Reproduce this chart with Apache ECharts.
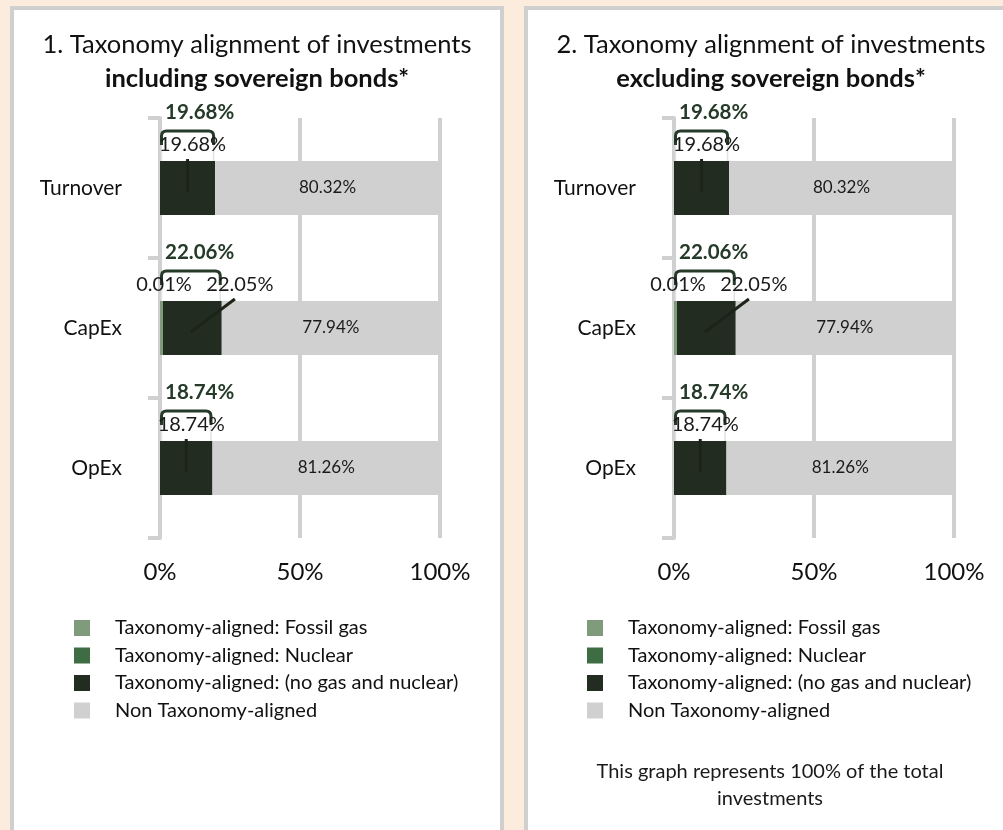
<!DOCTYPE html>
<html lang="en">
<head>
  <meta charset="utf-8">
  <title>Taxonomy alignment of investments</title>
  <script src="https://cdn.jsdelivr.net/npm/echarts@6/dist/echarts.min.js"></script>
  <style>
    html, body { margin: 0; padding: 0; background: #fcecdd; }
    #main { width: 1003px; height: 830px; }
  </style>
</head>
<body>
<div id="main"></div>
<script type="text/javascript">
// categories (top to bottom)
var categories = ['Turnover', 'CapEx', 'OpEx'];

// 1. including sovereign bonds
var fossilGas1 = [0, 0.01, 0];
var nuclear1 = [0, 0, 0];
var noGasNuclear1 = [19.68, 22.05, 18.74];
var nonAligned1 = [80.32, 77.94, 81.26];
var totalAligned1 = [19.68, 22.06, 18.74];

// 2. excluding sovereign bonds
var fossilGas2 = [0, 0.01, 0];
var nuclear2 = [0, 0, 0];
var noGasNuclear2 = [19.68, 22.05, 18.74];
var nonAligned2 = [80.32, 77.94, 81.26];
var totalAligned2 = [19.68, 22.06, 18.74];

var xTicks = [0, 50, 100];

var names = ['Taxonomy-aligned: Fossil gas', 'Taxonomy-aligned: Nuclear',
             'Taxonomy-aligned: (no gas and nuclear)', 'Non Taxonomy-aligned'];
var colors = ['#7f9b7b', '#3e6d44', '#232c21', '#d0d0d0'];

// callout nudge to the right for the dark segment label (CapEx label moved aside)
var calloutShift = [0, 44, 0];

var FONT = 'Lato';
var BAR_W = 54;
var gridLine = '#d0d0d0';

var dom = document.getElementById('main');
var myChart = echarts.init(dom, null, {renderer: 'canvas'});

function pct(v) { return v.toFixed(2) + '%'; }

function overlayItem(params, api) {
    var cat = api.value(0);
    var fossil = api.value(1), nuc = api.value(2), dark = api.value(3), total = api.value(4);
    var p0 = api.coord([0, cat]);
    var x0 = p0[0], cy = p0[1];
    var xt = api.coord([total, cat])[0];
    var top = cy - BAR_W / 2;
    var sx = api.coord([fossil + nuc + dark / 2, cat])[0];
    var shift = calloutShift[params.dataIndex];
    var l = x0 + 1.5, r = xt - 1.5, t = top - 30;
    var children = [
        {type: 'line', shape: {x1: l, y1: top - 16, x2: l, y2: top}, style: {stroke: '#e2e2e2', lineWidth: 1.5}},
        {type: 'line', shape: {x1: r, y1: top - 16, x2: r, y2: top}, style: {stroke: '#e2e2e2', lineWidth: 1.5}},
        {type: 'path', shape: {pathData: 'M' + l + ',' + (top - 16) + ' L' + l + ',' + (t + 5) +
            ' Q' + l + ',' + t + ' ' + (l + 5) + ',' + t + ' L' + (r - 5) + ',' + t +
            ' Q' + r + ',' + t + ' ' + r + ',' + (t + 5) + ' L' + r + ',' + (top - 16)},
         style: {stroke: '#263a29', lineWidth: 3, fill: null}},
        {type: 'line', shape: {x1: sx, y1: cy + 4, x2: sx + shift, y2: top - 2},
         style: {stroke: '#1c2419', lineWidth: 3}},
        {type: 'text', style: {text: pct(total), x: x0 + 5, y: top - 49, align: 'left', verticalAlign: 'middle',
            font: 'bold 20.5px ' + FONT, fill: '#253a28'}},
        {type: 'text', style: {text: pct(dark), x: sx + shift + 5, y: top - 16, align: 'center', verticalAlign: 'middle',
            font: '20px ' + FONT, fill: '#1a1a1a'}}
    ];
    if (fossil > 0) {
        children.push({type: 'text', style: {text: pct(fossil), x: x0 + 4, y: top - 16, align: 'center',
            verticalAlign: 'middle', font: '20px ' + FONT, fill: '#1a1a1a'}});
    }
    return {type: 'group', children: children};
}

function makeSeries(g, fossil, nuclear, dark, non, total) {
    var sets = [fossil, nuclear, dark, non];
    var out = [];
    for (var k = 0; k < 4; k++) {
        var s = {
            name: names[k],
            type: 'bar',
            xAxisIndex: g, yAxisIndex: g,
            stack: 'st' + g,
            barWidth: BAR_W,
            itemStyle: {color: colors[k]},
            data: k === 0 ? sets[k].map(function (v) { return v > 0 ? v : '-'; }) : sets[k],
            label: {show: false}
        };
        if (k === 0) { s.barMinHeight = 3; s.z = 4; }
        if (k === 3) {
            s.label = {show: true, position: 'inside', formatter: function (p) { return pct(p.value); },
                fontSize: 17, fontFamily: FONT, color: '#1a1a1a'};
        }
        out.push(s);
    }
    out.push({
        type: 'custom',
        xAxisIndex: g, yAxisIndex: g,
        z: 6,
        silent: true,
        renderItem: overlayItem,
        data: categories.map(function (c, i) {
            return [i, fossil[i], nuclear[i], dark[i], total[i]];
        })
    });
    return out;
}

function xAxisOpt(g) {
    return {
        gridIndex: g, type: 'value', min: 0, max: 100, interval: 50,
        axisLine: {show: false}, axisTick: {show: false},
        axisLabel: {formatter: '{value}%', fontSize: 24, fontFamily: FONT, color: '#111', margin: 22},
        splitLine: {show: true, lineStyle: {color: gridLine, width: 4}}
    };
}
function yAxisOpt(g) {
    return {
        gridIndex: g, type: 'category', inverse: true, data: categories,
        axisLine: {show: true, lineStyle: {color: gridLine, width: 4}},
        axisTick: {show: true, length: 12, lineStyle: {color: gridLine, width: 4}},
        axisLabel: {fontSize: 21, fontFamily: FONT, color: '#111', margin: 38},
        splitLine: {show: false}
    };
}
function legendOpt(left) {
    return {
        orient: 'vertical', left: left, top: 613,
        icon: 'rect', itemWidth: 16, itemHeight: 16, itemGap: 7.5,
        data: names, selectedMode: false,
        textStyle: {fontSize: 20, fontFamily: FONT, color: '#111', lineHeight: 16, padding: [0, 0, 0, 20]}
    };
}

var option = {
    backgroundColor: '#fcecdd',
    animation: false,
    textStyle: {fontFamily: FONT},
    graphic: [
        {type: 'rect', z: -10, shape: {x: 12, y: 8, width: 490, height: 900},
         style: {fill: '#ffffff', stroke: '#cfcfcf', lineWidth: 4}},
        {type: 'rect', z: -10, shape: {x: 526, y: 8, width: 490, height: 900},
         style: {fill: '#ffffff', stroke: '#cfcfcf', lineWidth: 4}},
        {type: 'text', style: {text: '1. Taxonomy alignment of investments', x: 257, y: 45, align: 'center',
            verticalAlign: 'middle', font: '25.5px ' + FONT, fill: '#111'}},
        {type: 'text', style: {text: 'including sovereign bonds*', x: 257, y: 79, align: 'center',
            verticalAlign: 'middle', font: 'bold 25.5px ' + FONT, fill: '#111'}},
        {type: 'text', style: {text: '2. Taxonomy alignment of investments', x: 771, y: 45, align: 'center',
            verticalAlign: 'middle', font: '25.5px ' + FONT, fill: '#111'}},
        {type: 'text', style: {text: 'excluding sovereign bonds*', x: 771, y: 79, align: 'center',
            verticalAlign: 'middle', font: 'bold 25.5px ' + FONT, fill: '#111'}},
        {type: 'text', style: {text: 'This graph represents 100% of the total', x: 770, y: 772, align: 'center',
            verticalAlign: 'middle', font: '20px ' + FONT, fill: '#1a1a1a'}},
        {type: 'text', style: {text: 'investments', x: 770, y: 799, align: 'center',
            verticalAlign: 'middle', font: '20px ' + FONT, fill: '#1a1a1a'}}
    ],
    legend: [legendOpt(69), legendOpt(582)],
    grid: [
        {left: 160, top: 118, width: 280, height: 420},
        {left: 674, top: 118, width: 280, height: 420}
    ],
    xAxis: [xAxisOpt(0), xAxisOpt(1)],
    yAxis: [yAxisOpt(0), yAxisOpt(1)],
    series: makeSeries(0, fossilGas1, nuclear1, noGasNuclear1, nonAligned1, totalAligned1)
        .concat(makeSeries(1, fossilGas2, nuclear2, noGasNuclear2, nonAligned2, totalAligned2))
};

if (option && typeof option === "object") {
    myChart.setOption(option, true);
}
</script>
</body>
</html>
